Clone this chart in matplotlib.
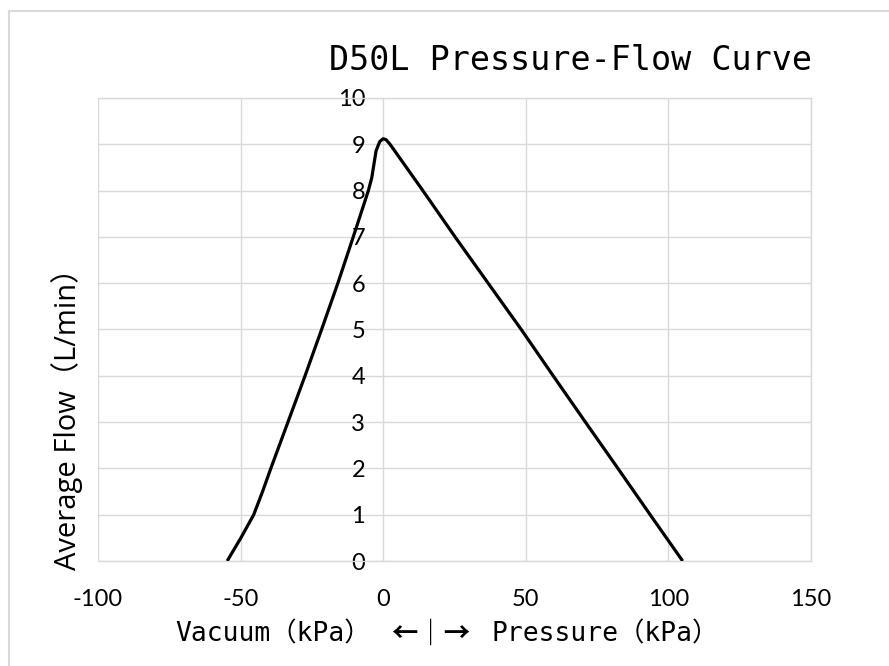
import matplotlib
matplotlib.use("Agg")
import matplotlib.pyplot as plt
from matplotlib.lines import Line2D

plt.rcParams["axes.unicode_minus"] = False

# pressure (kPa, negative = vacuum) vs average flow (L/min)
pressure = [-54.7, -49.9, -45.4, -42.3, -39.4, -33.4, -27.4, -21.6, -15.9, -10.5,
            -5.2, -4.0, -2.5, -1.2, 0.0, 1.0, 2.4, 13.9, 25.2, 36.8,
            48.4, 59.6, 70.9, 82.3, 93.6, 105.0]
flow = [0, 0.5, 1, 1.5, 2, 3, 4, 5, 6, 7,
        8, 8.28, 8.86, 9.06, 9.12, 9.1, 9.0, 8, 7, 6,
        5, 4, 3, 2, 1, 0]

x_ticks = [-100, -50, 0, 50, 100, 150]
y_ticks = list(range(0, 11))

title = "D50L Pressure-Flow Curve"
x_label_left = "Vacuum（kPa）"
x_label_mid = "←｜→"
x_label_right = "Pressure（kPa）"
y_label = "Average Flow（L/min）"

fig = plt.figure(figsize=(8.89, 6.66), dpi=100)
ax = fig.add_axes([98 / 889, 1 - 561 / 666, 713 / 889, 463 / 666])

ax.plot(pressure, flow, color="black", linewidth=2.3,
        solid_joinstyle="round", solid_capstyle="butt", zorder=3)

ax.set_xlim(-100, 150)
ax.set_ylim(0, 10)
ax.set_xticks(x_ticks)
ax.set_yticks(y_ticks)
ax.grid(True, color="#d9d9d9", linewidth=1.0)
ax.set_axisbelow(True)

# y tick labels sit on the x=0 line, as in the spreadsheet chart
ax.spines["left"].set_position(("data", 0))
for s in ax.spines.values():
    s.set_color("#d9d9d9")
    s.set_linewidth(1.0)
ax.spines["left"].set_color("none")

ax.tick_params(axis="both", length=0, labelsize=17, colors="black")
ax.tick_params(axis="x", pad=20)
ax.tick_params(axis="y", pad=13)
for lab in ax.get_xticklabels() + ax.get_yticklabels():
    lab.set_family(["Lato", "DejaVu Sans"])

fig.text(812 / 889, 1 - 60 / 666, title, ha="right", va="center",
         fontsize=24, family=["DejaVu Sans Mono"])

# x axis title: vacuum side | pressure side
xl_y = 1 - 634 / 666
mono = ["DejaVu Sans Mono", "Noto Sans CJK SC"]
fig.text(175 / 889, xl_y, x_label_left, ha="left", va="center",
         fontsize=19, family=mono)
fig.text(431 / 889, xl_y, x_label_mid, ha="center", va="center",
         fontsize=19, fontweight="bold", family=["Noto Sans CJK SC", "DejaVu Sans"])
fig.text(492 / 889, xl_y, x_label_right, ha="left", va="center",
         fontsize=19, family=mono)

fig.text(67 / 889, 1 - 412 / 666, y_label, ha="center", va="center",
         rotation=90, fontsize=21, family=["Open Sans", "Noto Sans CJK SC"])

# faint outer frame of the chart object
fig.add_artist(Line2D([9 / 889, 9 / 889], [0, 1 - 11 / 666],
                      transform=fig.transFigure, color="#d9d9d9", linewidth=1.5))
fig.add_artist(Line2D([9 / 889, 1], [1 - 11 / 666, 1 - 11 / 666],
                      transform=fig.transFigure, color="#d9d9d9", linewidth=1.5))

fig.savefig("out.png", dpi=100)
